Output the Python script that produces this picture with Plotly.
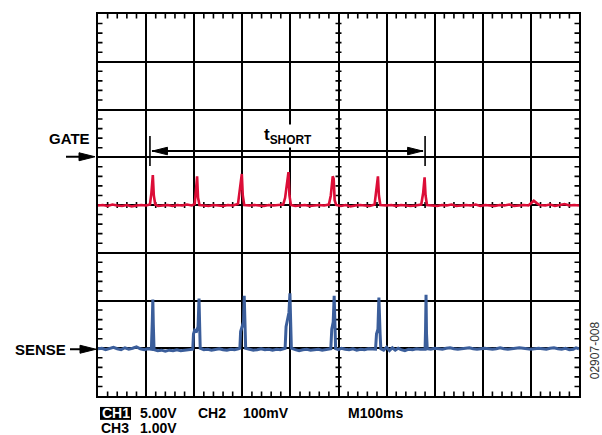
import plotly.graph_objects as go

# ---------------- data (time in ms, amplitude in divisions) ----------------
gate_t = [0, 10, 20, 30, 40, 50, 60, 70, 80, 90, 100, 108, 111, 114, 116, 119,
          125, 135, 145, 155, 165, 175, 185, 195, 201, 204, 206, 208, 211,
          220, 230, 240, 250, 260, 270, 280, 291, 295, 299, 301, 304,
          315, 325, 335, 345, 355, 365, 375, 385, 389, 393, 396, 398, 401,
          410, 420, 430, 440, 450, 460, 470, 480, 484, 488, 490, 492, 495,
          505, 515, 525, 535, 545, 555, 565, 575, 578, 582, 584, 587,
          600, 610, 620, 630, 640, 650, 660, 672, 676, 679, 681, 684,
          695, 705, 715, 725, 735, 745, 755, 765, 775, 785, 795, 805, 815,
          825, 835, 845, 855, 865, 875, 885, 895, 900, 906, 912, 918,
          930, 940, 950, 960, 970, 980, 990, 1000]
gate_v = [3.99, 4.00, 3.98, 4.01, 3.99, 3.98, 4.00, 3.97, 3.99, 4.00, 3.99, 4.01, 4.25, 4.625, 4.20, 4.01,
          3.98, 3.99, 4.00, 3.98, 4.00, 3.99, 4.01, 3.99, 4.02, 4.35, 4.60, 4.15, 4.00,
          3.99, 3.98, 4.00, 3.99, 3.98, 4.00, 3.99, 4.02, 4.30, 4.65, 4.20, 4.00,
          3.99, 4.00, 3.99, 3.98, 4.00, 3.99, 4.00, 4.01, 4.15, 4.45, 4.69, 4.20, 4.00,
          3.98, 3.99, 4.00, 3.98, 3.99, 4.00, 3.99, 4.01, 4.20, 4.60, 4.55, 4.10, 4.00,
          3.98, 4.00, 3.97, 3.99, 4.00, 3.99, 3.98, 4.01, 4.25, 4.60, 4.20, 4.00,
          3.99, 4.00, 3.98, 4.00, 3.99, 3.98, 3.99, 4.01, 4.25, 4.58, 4.20, 4.00,
          3.99, 3.98, 4.00, 3.99, 4.01, 3.98, 3.99, 4.00, 3.99, 4.01, 3.98, 4.00, 3.99,
          3.98, 4.00, 3.99, 4.01, 3.98, 3.99, 4.00, 3.99, 4.03, 4.09, 4.04, 4.00,
          3.99, 4.01, 3.98, 4.00, 4.02, 3.99, 4.00, 3.99]

sense_t = [0, 8, 16, 24, 32, 40, 48, 56, 64, 72, 80, 88, 96, 104, 111, 113, 114, 115, 116.5,
           124, 132, 140, 148, 156, 164, 172, 180, 188, 197, 198.5, 201, 205, 208, 210, 211, 212.5,
           220, 228, 236, 244, 252, 260, 268, 276, 284, 292, 295, 296.5, 300, 302.5, 304, 305, 307,
           315, 323, 331, 339, 347, 355, 363, 371, 379, 386, 389, 391, 394, 397, 399, 400.5, 402,
           410, 418, 426, 434, 442, 450, 458, 466, 474, 481, 484, 486, 489, 491, 492.5, 494,
           500, 506, 514, 522, 530, 538, 546, 554, 562, 570, 577, 579, 582, 584, 585, 586.5, 588,
           594, 600, 606, 612, 618, 624, 630, 638, 646, 654, 662, 670, 677, 680, 681, 682, 683, 684.5,
           692, 700, 708, 716, 724, 732, 740, 748, 756, 764, 772, 780, 788, 796, 804, 812, 820,
           828, 836, 844, 852, 860, 868, 876, 884, 892, 900, 908, 916, 924, 932, 940, 948, 956,
           964, 972, 980, 988, 994, 1000]
sense_v = [0.99, 1.00, 0.97, 0.99, 1.02, 0.99, 0.97, 1.01, 0.98, 1.00, 1.03, 0.99, 0.97, 0.99, 0.98, 1.60, 2.02, 1.50, 0.97,
           0.95, 0.96, 0.94, 0.96, 0.95, 0.97, 0.95, 0.96, 0.97, 0.98, 1.30, 1.38, 1.36, 1.45, 2.04, 1.30, 1.00,
           0.97, 0.98, 0.96, 0.97, 0.99, 0.97, 0.96, 0.98, 0.97, 0.99, 1.00, 1.35, 1.45, 1.55, 2.10, 1.40, 1.00,
           0.98, 0.96, 0.97, 0.99, 0.97, 0.98, 0.96, 0.98, 0.97, 0.99, 1.00, 1.45, 1.60, 1.75, 2.15, 1.50, 1.00,
           0.97, 0.95, 0.97, 0.98, 0.96, 0.97, 0.98, 0.96, 0.98, 0.99, 0.99, 1.40, 1.55, 2.10, 1.30, 0.99,
           0.97, 1.00, 0.98, 0.97, 0.99, 0.96, 0.98, 0.97, 0.99, 0.98, 0.98, 1.30, 1.40, 2.06, 1.60, 1.30, 0.99,
           0.96, 1.02, 0.95, 1.01, 0.96, 1.00, 0.97, 0.95, 0.98, 0.97, 0.99, 0.98, 0.99, 0.98, 1.40, 2.12, 1.30, 0.99,
           0.98, 1.00, 0.99, 0.98, 1.00, 1.01, 0.99, 0.98, 0.99, 1.00, 1.01, 0.99, 0.98, 0.99, 1.00, 0.99, 0.98,
           0.99, 1.01, 0.99, 0.98, 0.99, 1.00, 1.01, 1.00, 0.99, 0.98, 0.99, 1.00, 0.99, 0.98, 1.00, 1.01, 0.99,
           0.98, 1.00, 0.97, 0.98, 1.01, 0.99]

t_short_start_ms = 108
t_short_end_ms = 680
t_short_level_div = 5.13

# ---------------- geometry ----------------
W, H = 602, 435
L, R, T, B = 98, 579, 12, 396
X0, X1 = 0, 1000
Y0, Y1 = 0, 8
px_x = (X1 - X0) / (R - L)   # ms per pixel
px_y = (Y1 - Y0) / (B - T)   # div per pixel

def pxX(p):
    return (p - L) / (R - L)

def pxY(p):
    return (B - p) / (B - T)

FONT = "Liberation Sans, Arial, Helvetica, sans-serif"

fig = go.Figure()
fig.add_trace(go.Scatter(x=gate_t, y=gate_v, mode="lines",
                         line=dict(color="#dc0d37", width=2.6), hoverinfo="skip"))
fig.add_trace(go.Scatter(x=sense_t, y=sense_v, mode="lines",
                         line=dict(color="#3b5e9b", width=3.0), hoverinfo="skip"))

# ---------------- tick marks (edges inward, center crossing) ----------------
path = []
tl_x = 4.5 * px_x
tl_y = 4.5 * px_y
for i in range(51):
    if i % 5 == 0:
        continue
    x = X0 + i * (X1 - X0) / 50
    path.append(f"M{x},{Y0} L{x},{Y0 + tl_y}")
    path.append(f"M{x},{Y1} L{x},{Y1 - tl_y}")
    path.append(f"M{x},{4 - 3 * px_y} L{x},{4 + 3 * px_y}")
for i in range(41):
    if i % 5 == 0:
        continue
    y = Y0 + i * (Y1 - Y0) / 40
    path.append(f"M{X0},{y} L{X0 + tl_x},{y}")
    path.append(f"M{X1},{y} L{X1 - tl_x},{y}")
    path.append(f"M{500 - 3 * px_x},{y} L{500 + 3 * px_x},{y}")
shapes = [dict(type="path", path=" ".join(path), xref="x", yref="y",
               line=dict(color="black", width=1.6), layer="below")]

# ---------------- t_SHORT bracket ----------------
ys = t_short_level_div
xa, xb = t_short_start_ms, t_short_end_ms
shapes.append(dict(type="line", xref="x", yref="y", x0=xa + 2 * px_x, x1=xb - 2 * px_x, y0=ys, y1=ys,
                   line=dict(color="black", width=2), layer="above"))
for xe, d in ((xa, 1), (xb, -1)):
    shapes.append(dict(type="line", xref="x", yref="y", x0=xe, x1=xe,
                       y0=ys - 15 * px_y, y1=ys + 15 * px_y,
                       line=dict(color="black", width=1.6), layer="above"))
    tip = xe + d * 2.5 * px_x
    back = tip + d * 15 * px_x
    shapes.append(dict(type="path", xref="x", yref="y",
                       path=f"M{tip},{ys} L{back},{ys + 3.8 * px_y} L{back},{ys - 3.8 * px_y} Z",
                       fillcolor="black", line=dict(color="black", width=1), layer="above"))

# ---------------- outside arrows (GATE / SENSE) ----------------
for (x_start, x_tip, yp) in ((66, 95, 155.5), (70, 96, 349)):
    shapes.append(dict(type="line", xref="paper", yref="paper",
                       x0=pxX(x_start), x1=pxX(x_tip - 8), y0=pxY(yp), y1=pxY(yp),
                       line=dict(color="black", width=2)))
    shapes.append(dict(type="path", xref="paper", yref="paper",
                       path=(f"M{pxX(x_tip)},{pxY(yp)} L{pxX(x_tip - 16)},{pxY(yp - 4)} "
                             f"L{pxX(x_tip - 16)},{pxY(yp + 4)} Z"),
                       fillcolor="black", line=dict(color="black", width=1)))

# CH1 inverse box
shapes.append(dict(type="rect", xref="paper", yref="paper",
                   x0=pxX(100), x1=pxX(131), y0=pxY(407), y1=pxY(420),
                   fillcolor="black", line=dict(width=0)))

def ann(text, xp, yp, size=15, xanchor="left", color="black", **kw):
    d = dict(text=text, xref="paper", yref="paper", x=pxX(xp), y=pxY(yp),
             xanchor=xanchor, yanchor="middle", showarrow=False,
             font=dict(family=FONT, size=size, color=color))
    d.update(kw)
    return d

ROW1, ROW2 = 413, 428
BOT = dict(size=14, height=15, borderpad=0)

annotations = [
    ann("<b>GATE</b>", 92, 137, size=15, xanchor="right"),
    ann("<b>SENSE</b>", 68, 349, size=15, xanchor="right"),
    ann("<b>t<sub>SHORT</sub></b>", 288, 135, size=17, xanchor="center",
        bgcolor="white", borderpad=0),
    ann("<b>CH1</b>", 115.5, ROW1, xanchor="center", color="white", **BOT),
    ann("<b>5.00V</b>", 139, ROW1, **BOT),
    ann("<b>CH2</b>", 197, ROW1, **BOT),
    ann("<b>100mV</b>", 242, ROW1, **BOT),
    ann("<b>M100ms</b>", 347, ROW1, **BOT),
    ann("<b>CH3</b>", 100, ROW2, **BOT),
    ann("<b>1.00V</b>", 139, ROW2, **BOT),
    ann("02907-008", 595, 350, size=12, xanchor="center", color="#333333", textangle=-90),
]

axis_common = dict(showgrid=True, gridcolor="black", gridwidth=1.5, zeroline=False,
                   showline=True, linecolor="black", linewidth=2.2, mirror=True,
                   showticklabels=False, ticks="", fixedrange=True)

fig.update_layout(
    width=W, height=H, autosize=False,
    margin=dict(l=L, r=W - R, t=T, b=H - B, pad=0),
    paper_bgcolor="white", plot_bgcolor="white",
    showlegend=False,
    xaxis=dict(range=[X0, X1], dtick=100, tick0=0, **axis_common),
    yaxis=dict(range=[Y0, Y1], dtick=1, tick0=0, **axis_common),
    shapes=shapes,
    annotations=annotations,
)

fig.write_html("out.html", config={"displayModeBar": False})
